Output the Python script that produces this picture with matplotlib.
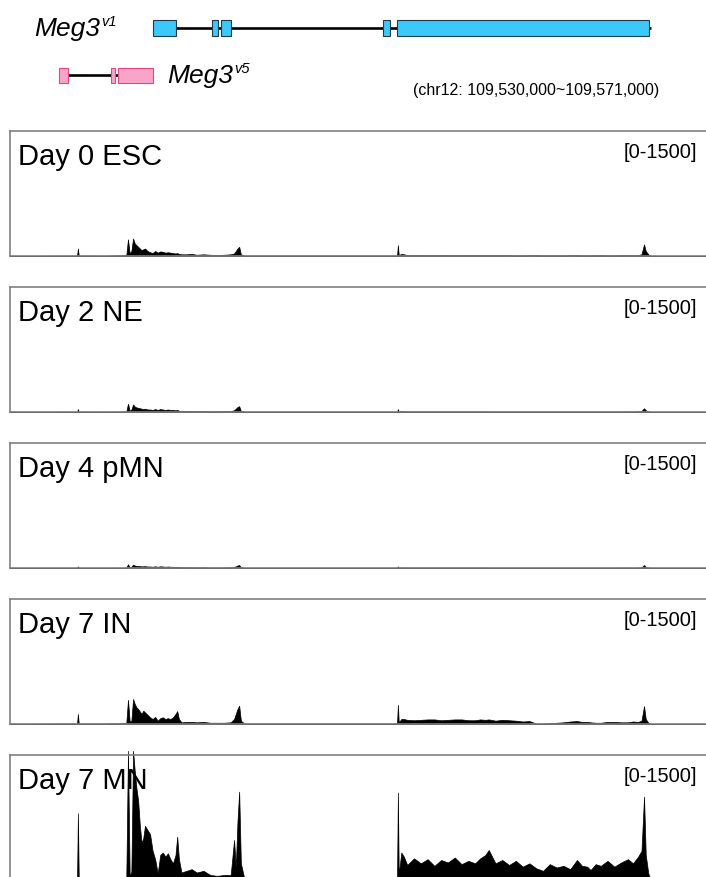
import matplotlib
matplotlib.use("Agg")
import matplotlib.pyplot as plt
from matplotlib.patches import Rectangle

plt.rcParams['font.family'] = ['Liberation Sans', 'DejaVu Sans']

# region chr12:109,530,000-109,571,000, positions in kb from region start
region_kb = 41.0

# Meg3 v1 exons (kb)
v1_starts = [8.42, 11.90, 12.43, 21.97, 22.79]
v1_ends = [9.78, 12.25, 13.02, 22.38, 37.63]
v1_line = [9.78, 37.75]
# Meg3 v5 exons (kb)
v5_starts = [2.89, 5.95, 6.36]
v5_ends = [3.42, 6.18, 8.42]
v5_line = [3.42, 6.36]

# coverage positions (kb)
pos_kb = [0.0, 3.0, 3.95, 4.0, 4.05, 5.5, 6.85, 6.95, 7.05, 7.15,
          7.25, 7.35, 7.45, 7.55, 7.65, 7.75, 7.85, 7.95, 8.1, 8.25,
          8.4, 8.55, 8.7, 8.85, 9.0, 9.15, 9.3, 9.45, 9.6, 9.75,
          9.85, 9.95, 10.1, 10.4, 10.7, 11.0, 11.4, 11.8, 12.2, 12.6,
          13.0, 13.2, 13.3, 13.4, 13.5, 13.6, 13.8, 15.5, 18.0, 20.5,
          22.7, 22.8, 22.85, 22.9, 23.05, 23.2,
          23.4, 23.8, 24.2, 24.6, 25.0, 25.4, 25.8, 26.2, 26.6, 27.0,
          27.4, 27.7, 28.0, 28.2, 28.6, 29.0, 29.4, 29.8, 30.2, 30.6,
          31.0, 31.4, 31.8, 32.2, 32.6, 33.0, 33.4, 33.7, 34.0, 34.2,
          34.5, 34.8, 35.2, 35.6, 36.0, 36.4, 36.7, 37.0, 37.2, 37.35,
          37.45, 37.6, 37.75, 41.0]

esc = [0, 3, 5, 90, 5, 3, 10, 200, 30, 60,
       210, 150, 130, 110, 90, 70, 80, 90, 60, 45,
       35, 60, 40, 55, 50, 40, 45, 40, 35, 30,
       35, 25, 20, 20, 25, 15, 20, 15, 12, 15,
       20, 30, 60, 90, 110, 20, 5, 5, 5, 5,
       5, 5, 130, 10, 25, 20,
       12, 14, 12, 10, 10, 12, 12, 10, 10, 12,
       12, 10, 10, 12, 10, 10, 10, 8, 8, 10,
       10, 8, 8, 8, 8, 10, 10, 8, 8, 8,
       10, 10, 8, 8, 10, 10, 10, 12, 20, 140,
       60, 20, 0, 0]

ne = [0, 2, 3, 35, 3, 2, 5, 100, 15, 30,
      90, 65, 55, 50, 45, 40, 35, 40, 30, 30,
      25, 35, 25, 35, 30, 25, 30, 25, 25, 20,
      25, 15, 10, 12, 12, 10, 12, 8, 8, 10,
      12, 20, 40, 60, 70, 12, 3, 3, 3, 3,
      3, 3, 35, 5, 10, 8,
      6, 6, 6, 6, 6, 6, 6, 6, 6, 6,
      6, 6, 6, 6, 5, 5, 5, 5, 5, 5,
      5, 5, 5, 5, 5, 5, 5, 5, 5, 5,
      5, 5, 5, 5, 6, 6, 6, 8, 12, 45,
      20, 8, 0, 0]

pmn = [0, 1, 2, 20, 2, 1, 3, 45, 8, 15,
       40, 30, 25, 25, 22, 20, 20, 22, 18, 18,
       15, 20, 15, 20, 18, 15, 18, 15, 15, 12,
       15, 10, 8, 8, 8, 6, 8, 5, 5, 6,
       8, 12, 20, 30, 35, 8, 2, 2, 2, 2,
       2, 2, 20, 3, 6, 5,
       4, 4, 4, 4, 4, 4, 4, 4, 4, 4,
       4, 4, 4, 4, 3, 3, 3, 3, 3, 3,
       3, 3, 3, 3, 3, 3, 3, 3, 3, 3,
       3, 3, 3, 3, 4, 4, 4, 5, 8, 35,
       12, 5, 0, 0]

in7 = [0, 5, 5, 120, 5, 5, 10, 290, 30, 40,
       300, 240, 200, 180, 150, 120, 160, 140, 110, 80,
       60, 85, 40, 70, 80, 60, 70, 60, 80, 120,
       155, 60, 20, 25, 25, 20, 25, 15, 15, 15,
       20, 60, 120, 180, 220, 40, 5, 5, 5, 5,
       5, 10, 230, 20, 60, 60,
       50, 45, 50, 55, 55, 45, 50, 55, 55, 45,
       45, 55, 50, 55, 40, 50, 45, 40, 30, 35,
       5, 5, 10, 15, 20, 30, 35, 25, 25, 20,
       15, 15, 25, 25, 20, 20, 30, 25, 40, 215,
       60, 15, 0, 0]

mn = [0, 10, 10, 800, 10, 10, 20, 1550, 50, 100,
      1550, 1300, 1100, 950, 650, 450, 500, 650, 600, 550,
      350, 250, 80, 300, 330, 280, 320, 250, 200, 300,
      520, 250, 90, 110, 130, 90, 110, 60, 50, 60,
      60, 480, 150, 700, 1060, 200, 20, 15, 15, 15,
      15, 30, 1050, 60, 330, 280,
      180, 260, 200, 250, 170, 240, 210, 270, 190, 230,
      200, 260, 300, 360, 200, 240, 180, 230, 160, 200,
      140, 110, 190, 150, 170, 130, 240, 170, 160, 120,
      190, 170, 230, 160, 210, 250, 200, 280, 350, 1000,
      300, 80, 0, 0]

track_names = ["Day 0 ESC", "Day 2 NE", "Day 4 pMN", "Day 7 IN", "Day 7 MN"]
track_values = [esc, ne, pmn, in7, mn]
data_range = 1500

W, H = 706, 877
fig = plt.figure(figsize=(W / 100, H / 100), dpi=100)
renderer = fig.canvas.get_renderer()

def px_axes(left, top, width, height):
    return fig.add_axes([left / W, 1 - (top + height) / H, width / W, height / H])

def gene_label(x, y, sup):
    t = fig.text(x / W, 1 - y / H, "Meg3", fontsize=19, style="italic",
                 ha="left", va="center")
    bb = t.get_window_extent(renderer)
    fig.text((bb.x1 + 1) / W, 1 - (y - 7) / H, sup, fontsize=10.5, style="italic",
             ha="left", va="center")

# gene models
gax = px_axes(10, 0, 696, 110)
gax.set_xlim(0, region_kb)
gax.set_ylim(110, 0)
gax.axis("off")

gax.plot(v1_line, [28, 28], color="black", lw=1.9, solid_capstyle="butt")
for s, e in zip(v1_starts, v1_ends):
    gax.add_patch(Rectangle((s, 20), e - s, 16, facecolor="#3cc8f8",
                            edgecolor="#1d3b4e", lw=0.8, zorder=3))
gax.plot(v5_line, [75, 75], color="black", lw=1.9, solid_capstyle="butt")
for s, e in zip(v5_starts, v5_ends):
    gax.add_patch(Rectangle((s, 68), e - s, 15, facecolor="#f9a5ca",
                            edgecolor="#e5467f", lw=0.8, zorder=3))

gene_label(34, 29, "v1")
gene_label(167, 76, "v5")
fig.text(413 / W, 1 - 90 / H, "(chr12: 109,530,000~109,571,000)", fontsize=11.5,
         ha="left", va="center")

# coverage tracks
tops = [131, 287, 443, 599, 755]
th = 125
for name, vals, top in zip(track_names, track_values, tops):
    ax = px_axes(10, top, 696, th)
    ax.set_xlim(0, region_kb)
    ax.set_ylim(0, data_range)
    ax.fill_between(pos_kb, vals, 0, color="black", lw=0.5, clip_on=False, zorder=2)
    ax.set_xticks([])
    ax.set_yticks([])
    for side in ["left", "top", "bottom"]:
        ax.spines[side].set_color("#808080")
        ax.spines[side].set_linewidth(1.2)
    ax.spines["right"].set_visible(False)
    ax.text(8 / 696, 1 - 26 / th, name, transform=ax.transAxes, fontsize=21,
            ha="left", va="center", zorder=3)
    ax.text(687 / 696, 1 - 22 / th, "[0-%d]" % data_range, transform=ax.transAxes,
            fontsize=14.5, ha="right", va="center", zorder=3)

fig.savefig("out.png", dpi=100)
